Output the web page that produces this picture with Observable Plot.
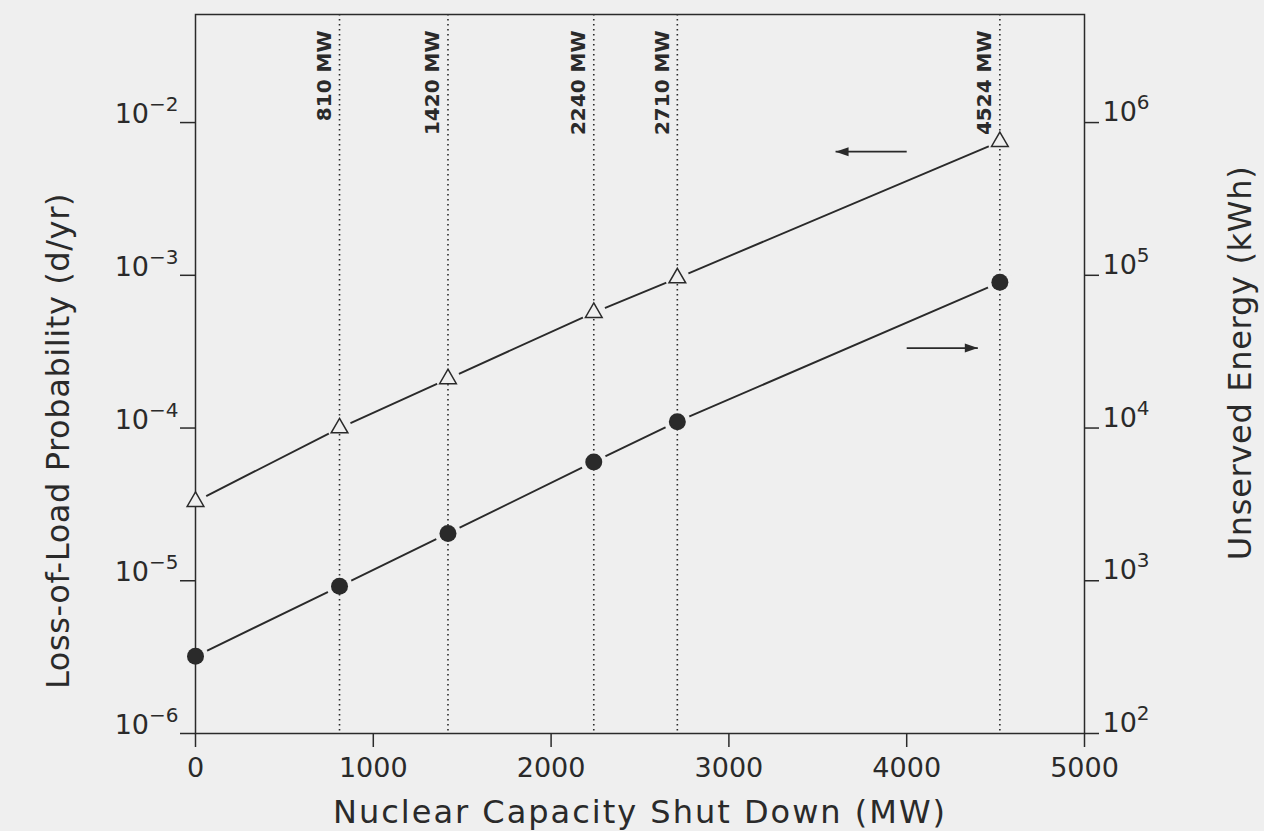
<!DOCTYPE html>
<html>
<head>
<meta charset="utf-8">
<script src="https://cdn.jsdelivr.net/npm/d3@7"></script>
<script src="https://cdn.jsdelivr.net/npm/@observablehq/plot@0.6"></script>
<style>
  html, body { margin: 0; padding: 0; background: #efefef; }
  #chart svg { display: block; }
</style>
</head>
<body>
<div id="chart"></div>
<script>
// ---- data ----
const capacityMW = [0, 810, 1420, 2240, 2710, 4524];
const lolpDaysPerYear = [3.3e-5, 1.0e-4, 2.1e-4, 5.7e-4, 9.6e-4, 7.5e-3];   // left axis (triangles)
const unservedEnergyKWh = [320, 920, 2040, 6000, 11000, 90000];            // right axis (dots)
const markedCapacitiesMW = [810, 1420, 2240, 2710, 4524];
const xTicks = [0, 1000, 2000, 3000, 4000, 5000];
const leftTickExponents = [-6, -5, -4, -3, -2];
const rightTickExponents = [2, 3, 4, 5, 6];
const kWhPerLolpUnit = 1e8; // right axis = left axis x 10^8
const arrowSeries = ["lolp", "energy"];
const arrowFromMW = [4000, 4000];
const arrowToMW = [3600, 4400];
const arrowValue = [6.45e-3, 3.34e4];
const xTitle = "Nuclear Capacity Shut Down (MW)";
const leftTitle = "Loss-of-Load Probability (d/yr)";
const rightTitle = "Unserved Energy (kWh)";

// ---- tables ----
const table = capacityMW.map((x, i) => ({x, lolp: lolpDaysPerYear[i], energy: unservedEnergyKWh[i] / kWhPerLolpUnit}));
const arrows = arrowSeries.map((s, i) => ({
  from: arrowFromMW[i], to: arrowToMW[i],
  y: s === "energy" ? arrowValue[i] / kWhPerLolpUnit : arrowValue[i]
}));
const leftTicks = leftTickExponents.map(e => 10 ** e);
const rightTicks = rightTickExponents.map(e => 10 ** e / kWhPerLolpUnit);

const bg = "#efefef";
const ink = "#2a2a2a";
const arrowHead = {
  draw(context) {
    context.moveTo(0, 0);
    context.lineTo(-13, -4.5);
    context.lineTo(-13, 4.5);
    context.closePath();
  }
};

const chart = Plot.plot({
  width: 1264,
  height: 831,
  marginLeft: 195,
  marginRight: 180,
  marginTop: 14,
  marginBottom: 98,
  style: {background: bg, color: ink, fontFamily: "DejaVu Sans"},
  x: {domain: [0, 5000], axis: null},
  y: {type: "log", domain: [1e-6, 0.051], axis: null},
  marks: [
    Plot.line(table, {x: "x", y: "lolp", stroke: ink, strokeWidth: 1.9}),
    Plot.line(table, {x: "x", y: "energy", stroke: ink, strokeWidth: 1.9}),
    Plot.dot(table, {x: "x", y: "lolp", r: 12, fill: bg, stroke: "none"}),
    Plot.dot(table, {x: "x", y: "energy", r: 13, fill: bg, stroke: "none"}),
    Plot.ruleX(markedCapacitiesMW, {stroke: ink, strokeWidth: 1.6, strokeDasharray: "1.6,3.4"}),
    Plot.frame({stroke: ink, strokeWidth: 1.5}),
    // left axis
    Plot.axisY(leftTicks, {anchor: "left", tickSize: 15, fill: "none", stroke: ink, strokeWidth: 1.5, label: null}),
    Plot.axisY(leftTicks, {anchor: "left", tickSize: 0, tickPadding: 17, dy: -8, fontSize: 27,
      tickFormat: d => `10^${Math.round(Math.log10(d))}`, label: null}),
    // right axis
    Plot.axisY(rightTicks, {anchor: "right", tickSize: 14, fill: "none", stroke: ink, strokeWidth: 1.5, label: null}),
    Plot.axisY(rightTicks, {anchor: "right", tickSize: 0, tickPadding: 18, dy: -10, fontSize: 27,
      tickFormat: d => `10^${Math.round(Math.log10(d * kWhPerLolpUnit))}`, label: null}),
    // bottom axis
    Plot.axisX(xTicks, {anchor: "bottom", tickSize: 14, tickPadding: 10, fontSize: 27, stroke: ink, strokeWidth: 1.5,
      tickFormat: d => `${d}`, label: null}),
    // markers
    Plot.dot(table, {x: "x", y: "lolp", symbol: "triangle", r: 6.2, fill: bg, stroke: ink, strokeWidth: 1.5}),
    Plot.dot(table, {x: "x", y: "energy", r: 8.5, fill: ink, stroke: "none"}),
    // arrows
    Plot.link(arrows, {x1: "from", x2: "to", y1: "y", y2: "y", stroke: ink, strokeWidth: 1.8}),
    Plot.dot(arrows, {x: "to", y: "y", symbol: arrowHead, rotate: d => d.to < d.from ? 180 : 0, fill: ink, stroke: "none"}),
    // capacity labels
    Plot.text(markedCapacitiesMW, {x: d => d, text: d => `${d} MW`, frameAnchor: "top", rotate: -90,
      textAnchor: "end", lineAnchor: "middle", dx: -15, dy: 16, fontSize: 20, fontWeight: "bold", fill: ink}),
    // axis titles
    Plot.text([xTitle], {text: d => d, frameAnchor: "bottom", textAnchor: "middle", lineAnchor: "middle",
      dy: 79, fontSize: 32, fill: ink}),
    Plot.text([leftTitle], {text: d => d, frameAnchor: "left", textAnchor: "middle", lineAnchor: "middle",
      rotate: -90, dx: -137, dy: 67, fontSize: 32, fill: ink}),
    Plot.text([rightTitle], {text: d => d, frameAnchor: "right", textAnchor: "middle", lineAnchor: "middle",
      rotate: -90, dx: 156, dy: -11, fontSize: 32, fill: ink})
  ]
});

// superscript exponents on the log-axis tick labels
d3.select(chart).selectAll("text").each(function () {
  const m = /^10\^(.+)$/.exec(this.textContent);
  if (!m) return;
  const t = d3.select(this);
  t.text("10");
  t.append("tspan").attr("dy", -12).attr("font-size", 20).text(m[1].replace("-", "\u2212"));
});
// widen the title lettering to match the reference's wide face
const spacing = {[xTitle]: "2px", [leftTitle]: "0.6px", [rightTitle]: "0.7px"};
d3.select(chart).selectAll("text").each(function () {
  const s = spacing[this.textContent];
  if (s) d3.select(this).style("letter-spacing", s);
});

document.getElementById("chart").append(chart);
</script>
</body>
</html>
